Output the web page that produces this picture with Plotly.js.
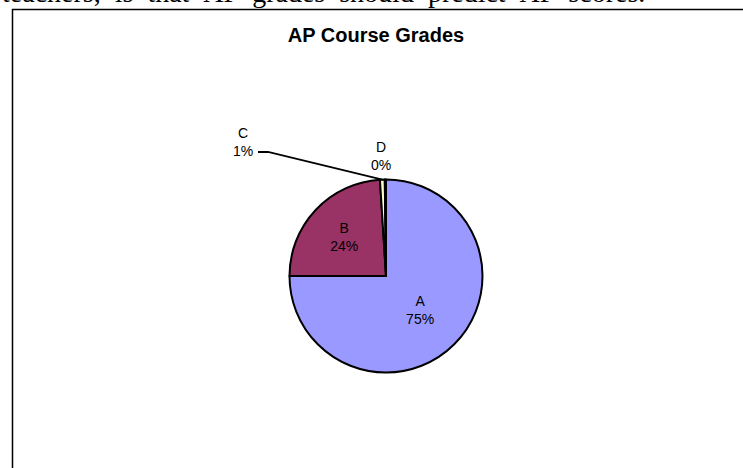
<!DOCTYPE html>
<html>
<head>
<meta charset="utf-8">
<script src="https://cdn.plot.ly/plotly-3.0.1.min.js"></script>
<style>
  html, body { margin: 0; padding: 0; background: #ffffff; }
  #chart { width: 743px; height: 468px; }
</style>
</head>
<body>
<div id="chart"></div>
<script>
// ---- data ----
const grades = ['A', 'B', 'C', 'D'];
const shares = [75, 24, 0.8, 0.2];
const sliceColors = ['#9999FF', '#993366', '#FFFFCC', '#CCFFFF'];
const chartTitle = 'AP Course Grades';
const pageText = 'teachers, is that AP grades should predict AP scores.';

// ---- layout geometry ----
const W = 743, H = 468;
const CX = 386, CY = 276, R = 96.5;
const FONT = 'Liberation Sans, Arial, sans-serif';
const LABEL_SIZE = 14;

const domain = {
  x: [(CX - R) / W, (CX + R) / W],
  y: [(H - CY - R) / H, (H - CY + R) / H]
};

const total = shares.reduce((a, b) => a + b, 0);
function sliceEdge(i) {
  const before = shares.slice(0, i).reduce((a, b) => a + b, 0);
  const midFrac = (before + shares[i] / 2) / total;
  const t = 2 * Math.PI * midFrac;
  return { x: CX + R * Math.sin(t), y: CY - R * Math.cos(t) };
}
function pctText(i) {
  return grades[i] + '<br>' + Math.round(shares[i] / total * 100) + '%';
}
const toPX = x => x / W;
const toPY = y => 1 - y / H;

const cEdge = sliceEdge(2);
const dEdge = sliceEdge(3);

// leader line for C label: elbow beside the label, then to the slice edge
const elbowA = { x: 258, y: 152 }, elbowB = { x: 268, y: 152 };
const leaderPath = 'M ' + toPX(elbowA.x) + ' ' + toPY(elbowA.y) +
  ' L ' + toPX(elbowB.x) + ' ' + toPY(elbowB.y) +
  ' L ' + toPX(cEdge.x) + ' ' + toPY(cEdge.y);

const trace = {
  type: 'pie',
  labels: grades,
  values: shares,
  sort: false,
  direction: 'clockwise',
  rotation: 0,
  domain: domain,
  marker: { colors: sliceColors, line: { color: '#000000', width: 2 } },
  texttemplate: ['%{label}<br>%{percent:.0%}', '%{label}<br>%{percent:.0%}', '', ''],
  textposition: ['inside', 'inside', 'none', 'none'],
  insidetextorientation: 'horizontal',
  textfont: { family: FONT, size: LABEL_SIZE, color: '#000000' },
  insidetextfont: { family: FONT, size: LABEL_SIZE, color: '#000000' },
  showlegend: false,
  hoverinfo: 'none'
};

const layout = {
  width: W, height: H,
  margin: { l: 0, r: 0, t: 0, b: 0 },
  paper_bgcolor: '#ffffff',
  plot_bgcolor: '#ffffff',
  showlegend: false,
  title: {
    text: chartTitle,
    font: { family: FONT, size: 20, color: '#000000', weight: 700 },
    x: 376 / W, xanchor: 'center',
    y: 1 - 34.5 / H, yanchor: 'middle', yref: 'container'
  },
  shapes: [
    {
      type: 'rect', xref: 'paper', yref: 'paper',
      x0: 12.5 / W, x1: 1.1, y0: -0.1, y1: 1 - 9.5 / H,
      line: { color: '#000000', width: 1.5 }, fillcolor: 'rgba(0,0,0,0)'
    },
    {
      type: 'path', xref: 'paper', yref: 'paper', path: leaderPath,
      line: { color: '#000000', width: 1.8 }
    }
  ],
  annotations: [
    {
      text: pctText(2), xref: 'paper', yref: 'paper',
      x: toPX(cEdge.x), y: toPY(cEdge.y), showarrow: false,
      xanchor: 'center', yanchor: 'middle',
      xshift: 243 - cEdge.x, yshift: cEdge.y - 142,
      font: { family: FONT, size: LABEL_SIZE, color: '#000000' }
    },
    {
      text: pctText(3), xref: 'paper', yref: 'paper',
      x: toPX(dEdge.x), y: toPY(dEdge.y), showarrow: false,
      xanchor: 'center', yanchor: 'bottom',
      xshift: -4, yshift: 5,
      font: { family: FONT, size: LABEL_SIZE, color: '#000000' }
    },
    {
      text: pageText.replace(/ /g, ' \u00A0'), xref: 'paper', yref: 'paper',
      x: 0, xanchor: 'left', y: 1 + 8 / H, yanchor: 'middle',
      showarrow: false,
      font: { family: 'Liberation Serif, Times New Roman, serif', size: 28, color: '#000000' }
    }
  ]
};

Plotly.newPlot('chart', [trace], layout, { staticPlot: true, displayModeBar: false });
</script>
</body>
</html>
